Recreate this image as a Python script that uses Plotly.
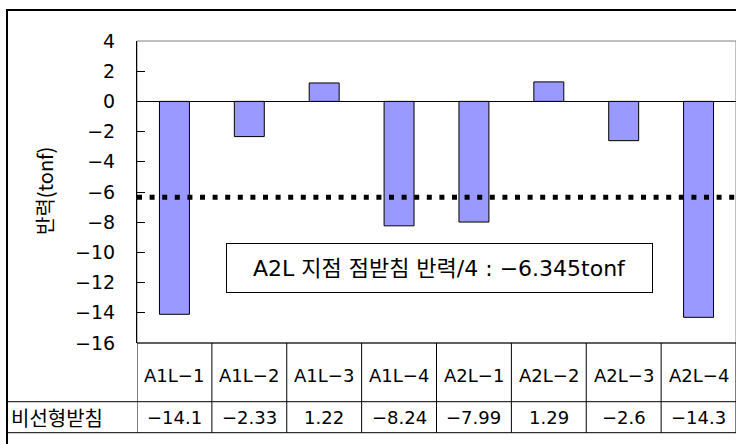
import plotly.graph_objects as go

# Support reactions per bearing (tonf)
categories = ["A1L-1", "A1L-2", "A1L-3", "A1L-4", "A2L-1", "A2L-2", "A2L-3", "A2L-4"]
reactions = [-14.1, -2.33, 1.22, -8.24, -7.99, 1.29, -2.6, -14.3]
series_name = "비선형받침"
reference_reaction = -6.345
reference_label = "A2L 지점 점받침 반력/4 : −6.345tonf"
y_title = "반력(tonf)"
y_ticks = [4, 2, 0, -2, -4, -6, -8, -10, -12, -14, -16]

W, H = 736, 444
PLOT_L, PLOT_T, PLOT_B = 137, 41, 343
FONT = "DejaVu Sans, Noto Sans CJK KR, sans-serif"
KR_FONT = "Noto Sans CJK KR, DejaVu Sans, sans-serif"


def px(p):
    return (p - PLOT_L) / (W - PLOT_L)


def py(p):
    return (PLOT_B - p) / (PLOT_B - PLOT_T)


def fmt(v):
    s = f"{v:g}"
    return s.replace("-", "−")


def dash(s):
    return s.replace("-", "−")


fig = go.Figure(
    go.Bar(
        x=list(range(len(categories))),
        y=reactions,
        marker=dict(color="#9999FF", line=dict(color="black", width=1)),
        showlegend=False,
        hoverinfo="skip",
    )
)

shapes = []
annotations = []

# outer chart frame
shapes.append(dict(type="rect", xref="paper", yref="paper",
                   x0=px(7), x1=px(W + 20), y0=py(10), y1=py(H + 20),
                   line=dict(color="black", width=2), layer="above"))
# plot area border
shapes.append(dict(type="rect", xref="paper", yref="paper",
                   x0=0, x1=1, y0=0, y1=1,
                   line=dict(color="#808080", width=1), layer="below"))

# reference reaction (dotted)
shapes.append(dict(type="line", xref="paper", yref="y",
                   x0=0, x1=1, y0=reference_reaction, y1=reference_reaction,
                   line=dict(color="black", width=5, dash="5px,7.6px"), layer="above"))

# data table grid
row1_bot = 401.7
row2_bot = 432.7
shapes.append(dict(type="line", xref="paper", yref="paper",
                   x0=0, x1=1, y0=py(PLOT_B), y1=py(PLOT_B),
                   line=dict(color="black", width=1)))
for yy in (row1_bot, row2_bot):
    shapes.append(dict(type="line", xref="paper", yref="paper",
                       x0=px(7), x1=1, y0=py(yy), y1=py(yy),
                       line=dict(color="black", width=1)))
for k in range(len(categories) + 1):
    shapes.append(dict(type="line", xref="x", yref="paper",
                       x0=k - 0.5, x1=k - 0.5, y0=py(PLOT_B), y1=py(row2_bot),
                       line=dict(color="black", width=1)))

for i, (c, v) in enumerate(zip(categories, reactions)):
    annotations.append(dict(x=i, y=py(375), xref="x", yref="paper", text=dash(c),
                            showarrow=False, xanchor="center", yanchor="middle",
                            font=dict(size=18, color="black")))
    annotations.append(dict(x=i, y=py(417.5), xref="x", yref="paper", text=fmt(v),
                            showarrow=False, xanchor="center", yanchor="middle",
                            font=dict(size=18, color="black")))

annotations.append(dict(x=px(9), y=py(417.5), xref="paper", yref="paper",
                        text=series_name, showarrow=False,
                        xanchor="left", yanchor="middle",
                        font=dict(family=KR_FONT, size=20, color="black")))

# y-axis title
annotations.append(dict(x=px(44), y=py(191), xref="paper", yref="paper",
                        text=y_title, textangle=-90, showarrow=False,
                        xanchor="center", yanchor="middle",
                        font=dict(family=KR_FONT, size=20, color="black")))

# reference text box
annotations.append(dict(x=px(439.5), y=py(268), xref="paper", yref="paper",
                        text=reference_label, showarrow=False,
                        xanchor="center", yanchor="middle",
                        width=425, height=48, borderpad=0,
                        bordercolor="black", borderwidth=1, bgcolor="white",
                        font=dict(size=22, color="black")))

fig.update_layout(
    width=W, height=H,
    margin=dict(l=PLOT_L, r=W - 736, t=PLOT_T, b=H - PLOT_B, pad=0),
    paper_bgcolor="white", plot_bgcolor="white",
    font=dict(family=FONT, color="black"),
    bargap=0.6,
    shapes=shapes,
    annotations=annotations,
    xaxis=dict(range=[-0.5, len(categories) - 0.5], showticklabels=False,
               showgrid=False, zeroline=False, showline=False, ticks="",
               fixedrange=True),
    yaxis=dict(range=[-16, 4], tickvals=y_ticks,
               ticktext=[fmt(t) for t in y_ticks],
               ticks="inside", ticklen=8, tickcolor="black", tickwidth=1,
               showline=True, linecolor="black", linewidth=1,
               showgrid=False, zeroline=True, zerolinecolor="black",
               zerolinewidth=1, tickfont=dict(size=19, color="black"),
               ticklabelstandoff=17, fixedrange=True),
)

fig.write_html("out.html", config={"displayModeBar": False})
